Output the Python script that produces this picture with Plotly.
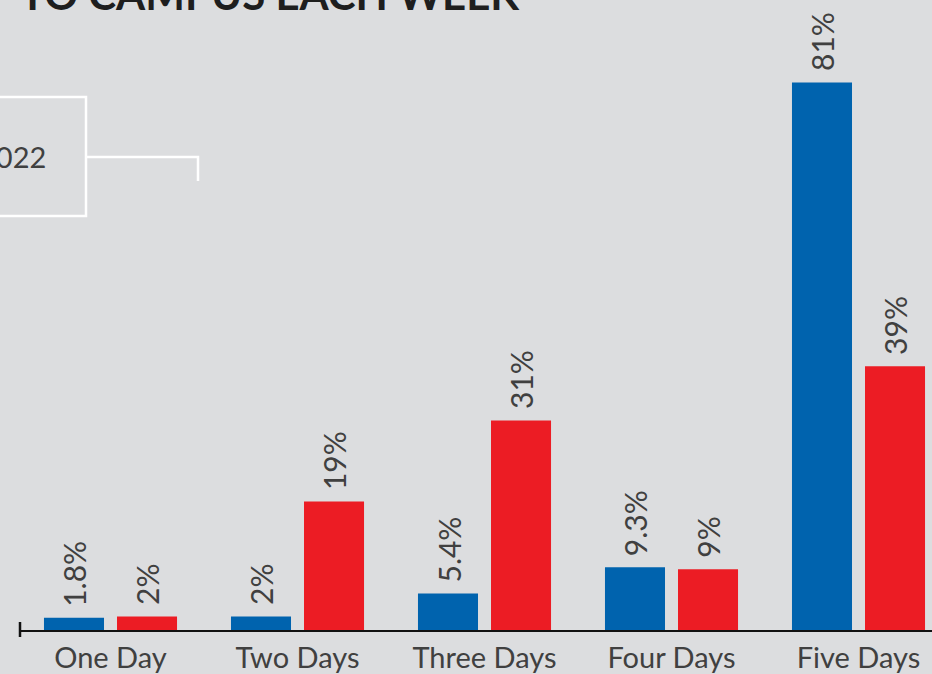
import plotly.graph_objects as go

# data
days = ['One Day', 'Two Days', 'Three Days', 'Four Days', 'Five Days']
earlier = [1.8, 2, 5.4, 9.3, 81]      # blue bars
fall_2022 = [2, 19, 31, 9, 39]        # red bars
earlier_labels = ['1.8%', '2%', '5.4%', '9.3%', '81%']
fall_2022_labels = ['2%', '19%', '31%', '9%', '39%']

BLUE = '#0063ae'
RED = '#ec1c24'
BG = '#dcdddf'
GREY = '#404040'

W, H = 932, 674
L, B = 20, 44
PW, PH = W - L, H - B


def px_x(p):
    return (p - L) / PW


def px_y(p):
    return (PH - p) / PH


fig = go.Figure()

fig.add_trace(go.Bar(
    x=days, y=earlier, name='Earlier',
    marker=dict(color=BLUE, line=dict(width=0))
))
fig.add_trace(go.Bar(
    x=days, y=fall_2022, name='2022',
    marker=dict(color=RED, line=dict(width=0))
))

annotations = []
for i, d in enumerate(days):
    for val, lab, shift in ((earlier[i], earlier_labels[i], -36.5),
                            (fall_2022[i], fall_2022_labels[i], 36.5)):
        annotations.append(dict(
            x=d, y=val, xref='x', yref='y', text=lab, showarrow=False,
            textangle=-90, xanchor='center', yanchor='bottom',
            xshift=shift, yshift=9,
            font=dict(family='Lato', size=30, color=GREY)
        ))

# title, cut off at the top edge
annotations.append(dict(
    x=0, y=1.0, xref='paper', yref='paper', xanchor='left', yanchor='bottom',
    xshift=-2, yshift=-21, text='<b>TO CAMPUS EACH WEEK</b>', showarrow=False,
    font=dict(family='Lato', size=42, color='#1e1e1e')
))
# legend fragment
annotations.append(dict(
    x=px_x(48), y=px_y(156), xref='paper', yref='paper', xanchor='right',
    yanchor='middle', text='2022', showarrow=False,
    font=dict(family='Lato', size=29, color=GREY)
))

shapes = [
    dict(type='rect', xref='paper', yref='paper',
         x0=px_x(-20), x1=px_x(86), y0=px_y(216), y1=px_y(97),
         line=dict(color='white', width=2.5)),
    dict(type='path', xref='paper', yref='paper',
         path=f'M {px_x(86)} {px_y(157)} L {px_x(198)} {px_y(157)} L {px_x(198)} {px_y(181)}',
         line=dict(color='white', width=2.5)),
    dict(type='line', xref='paper', yref='paper',
         x0=px_x(20), x1=px_x(20), y0=px_y(622), y1=px_y(637),
         line=dict(color='#111111', width=2.5)),
]

fig.update_layout(
    width=W, height=H,
    margin=dict(l=L, r=0, t=0, b=B),
    paper_bgcolor=BG, plot_bgcolor=BG,
    barmode='group', bargap=0.219, bargroupgap=0.178,
    showlegend=False,
    annotations=annotations,
    shapes=shapes,
    xaxis=dict(
        range=[-0.484, 4.393], showgrid=False, zeroline=False,
        showline=True, linecolor='#111111', linewidth=2,
        ticks='', ticklabelstandoff=1,
        tickfont=dict(family='Lato', size=29, color=GREY)
    ),
    yaxis=dict(
        range=[0, 93.2], showgrid=False, zeroline=False,
        showline=False, showticklabels=False, ticks=''
    ),
)

# drop the browser's default page margin so the figure sits at the corner
fig.write_html('out.html', config={'displayModeBar': False},
               post_script="document.body.style.margin='0';document.body.style.overflow='hidden';")
